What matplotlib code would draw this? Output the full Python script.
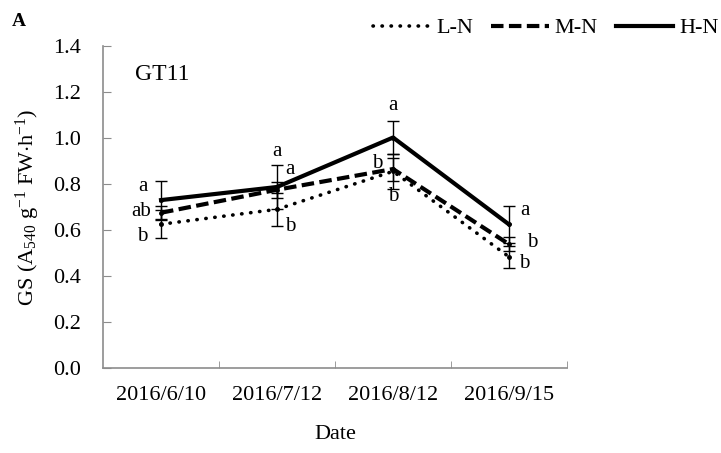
import numpy as np
import matplotlib
matplotlib.use("Agg")
import matplotlib.pyplot as plt
from matplotlib.lines import Line2D

plt.rcParams["font.family"] = ["Liberation Serif", "DejaVu Serif"]
plt.rcParams["mathtext.fontset"] = "custom"
plt.rcParams["mathtext.rm"] = "Liberation Serif"
plt.rcParams["mathtext.it"] = "Liberation Serif:italic"

dates = ["2016/6/10", "2016/7/12", "2016/8/12", "2016/9/15"]

ln_mean = [0.625, 0.690, 0.855, 0.483]
ln_err = [0.060, 0.073, 0.075, 0.048]
mn_mean = [0.675, 0.775, 0.865, 0.538]
mn_err = [0.030, 0.035, 0.050, 0.030]
hn_mean = [0.730, 0.787, 1.002, 0.624]
hn_err = [0.082, 0.096, 0.070, 0.080]

# significance letters, one per date for each treatment
hn_letters = ["a", "a", "a", "a"]
mn_letters = ["ab", "a", "b", "b"]
ln_letters = ["b", "b", "b", "b"]

x = np.arange(len(dates))

fig = plt.figure(figsize=(7.21, 4.53), dpi=100)
ax = fig.add_axes([0.1429, 0.1876, 0.6436, 0.7109])

styles = [
    ("L-N", ln_mean, ln_err, dict(linestyle=(0, (0.1, 2.4)), lw=2.6, dash_capstyle="round")),
    ("M-N", mn_mean, mn_err, dict(linestyle=(0, (3.0, 1.3)), lw=3.0)),
    ("H-N", hn_mean, hn_err, dict(linestyle="-", lw=3.0)),
]
handles = []
for name, mean, err, st in styles:
    ax.errorbar(x, mean, yerr=err, color="black", ecolor="black",
                elinewidth=1.0, capsize=4, capthick=1.0, **st)
    ax.plot(x, mean, "o", color="black", ms=2.5)
    handles.append(Line2D([], [], color="black", label=name, **st))

# letter placement (offsets in data units, relative to each date)
lab_pos = {
    "H-N": [(-0.16, 0.79), (0.00, 0.94), (0.00, 1.14), (0.14, 0.685)],
    "M-N": [(-0.17, 0.68), (0.11, 0.865), (-0.14, 0.89), (0.20, 0.545)],
    "L-N": [(-0.16, 0.57), (0.11, 0.615), (0.00, 0.745), (0.13, 0.455)],
}
letters = {"H-N": hn_letters, "M-N": mn_letters, "L-N": ln_letters}
for key, pos in lab_pos.items():
    for i, (dx, yy) in enumerate(pos):
        ax.text(x[i] + dx, yy, letters[key][i], fontsize=15,
                ha="center", va="center")

ax.text(0.069, 0.91, "GT11", transform=ax.transAxes, fontsize=17,
        ha="left", va="center")

ax.set_xlim(-0.5, len(dates) - 0.5)
ax.set_ylim(0, 1.4)
ax.set_yticks(np.arange(0, 1.41, 0.2))
ax.set_yticklabels([f"{v:.1f}" for v in np.arange(0, 1.41, 0.2)])
ax.set_xticks(x)
ax.set_xticklabels(dates)
ax.set_xticks(np.arange(0.5, len(dates) - 0.5 + 0.01, 1.0), minor=True)
ax.tick_params(axis="x", which="major", length=0, labelsize=16, pad=13)
ax.tick_params(axis="x", which="minor", direction="in", length=5,
               color="#8c8c8c")
ax.tick_params(axis="y", direction="in", length=6, color="#8c8c8c",
               labelsize=16, pad=16)

for side in ["top", "right"]:
    ax.spines[side].set_visible(False)
for side in ["left", "bottom"]:
    ax.spines[side].set_color("#8c8c8c")
    ax.spines[side].set_linewidth(1.2)

ax.set_ylabel(r"GS (A$_{540}$ g$^{-1}$ FW$\cdot$h$^{-1}$)", fontsize=16, labelpad=8)
ax.set_xlabel("Date", fontsize=16, labelpad=14)

fig.legend(handles=handles, loc="center right",
           bbox_to_anchor=(1.024, 0.938), ncol=3, frameon=False,
           fontsize=16, handlelength=2.6, handletextpad=0.25,
           columnspacing=0.8)

fig.text(0.017, 0.952, "A", fontsize=14, fontweight="bold", ha="left", va="center")

fig.savefig("out.png", dpi=100)
